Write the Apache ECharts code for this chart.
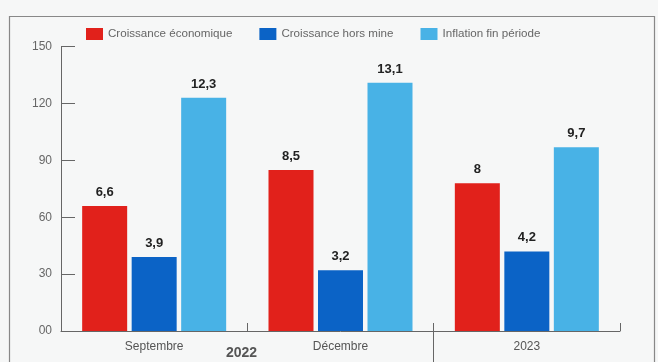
<!DOCTYPE html>
<html><head><meta charset="utf-8">
<script src="https://cdn.jsdelivr.net/npm/echarts@6/dist/echarts.min.js"></script>
<style>html,body{margin:0;padding:0;background:#f6f7f7}#c{width:658px;height:362px}</style>
</head><body><div id="c"></div>
<script>
const categories = ['Septembre', 'Décembre', '2023'];
const seriesNames = ['Croissance économique', 'Croissance hors mine', 'Inflation fin période'];
const croissanceEco = [66, 85, 78];
const croissanceHorsMine = [39, 32, 42];
const inflation = [123, 131, 97];
const labelsEco = ['6,6', '8,5', '8'];
const labelsHorsMine = ['3,9', '3,2', '4,2'];
const labelsInflation = ['12,3', '13,1', '9,7'];
const yTickLabels = ['00', '30', '60', '90', '120', '150'];
const colors = ['#e1211b', '#0b63c6', '#48b2e6'];
const font = '"Liberation Sans", Arial, sans-serif';

const chart = echarts.init(document.getElementById('c'));
function mk(name, data, labels, color) {
  return {
    name, type: 'bar', data, barWidth: 45, barGap: '10%',
    itemStyle: { color },
    label: {
      show: true, position: 'top', distance: 7,
      formatter: p => labels[p.dataIndex],
      color: '#222', fontWeight: 'bold', fontSize: 13, fontFamily: font
    }
  };
}
chart.setOption({
  backgroundColor: '#f6f7f7',
  animation: false,
  color: colors,
  legend: {
    top: 28, left: 86, padding: 0, itemWidth: 17, itemHeight: 12, itemGap: 27,
    icon: 'rect',
    textStyle: { color: '#666', fontSize: 11.6, fontFamily: font },
    data: seriesNames
  },
  grid: { left: 61, right: 38, top: 46.7, bottom: 31 },
  xAxis: {
    type: 'category', data: categories, boundaryGap: true,
    axisLine: { lineStyle: { color: '#666', width: 1 } },
    axisTick: { show: true, inside: true, length: 8, lineStyle: { color: '#666' } },
    axisLabel: { color: '#555', fontSize: 12, fontFamily: font, margin: 10 }
  },
  yAxis: {
    type: 'value', min: 0, max: 150, interval: 30,
    splitLine: { show: false },
    axisLine: { show: true, lineStyle: { color: '#666', width: 1 } },
    axisTick: { show: true, inside: true, length: 14, lineStyle: { color: '#666' } },
    axisLabel: {
      color: '#666', fontSize: 12, fontFamily: font, margin: 9,
      formatter: v => yTickLabels[Math.round(v / 30)]
    }
  },
  graphic: [
    { type: 'rect', left: 7, top: 14, shape: { x: 0, y: 0, width: 645, height: 360 },
      style: { fill: 'none', stroke: '#888', lineWidth: 1.2 }, silent: true },
    { type: 'line', shape: { x1: 433.5, y1: 323, x2: 433.5, y2: 362 },
      style: { stroke: '#666', lineWidth: 1 }, silent: true },
    { type: 'text', left: 226, top: 346,
      style: { text: '2022', fill: '#555', fontSize: 14, fontWeight: 'bold', fontFamily: font } }
  ],
  series: [
    mk(seriesNames[0], croissanceEco, labelsEco, colors[0]),
    mk(seriesNames[1], croissanceHorsMine, labelsHorsMine, colors[1]),
    mk(seriesNames[2], inflation, labelsInflation, colors[2])
  ]
});
</script></body></html>
